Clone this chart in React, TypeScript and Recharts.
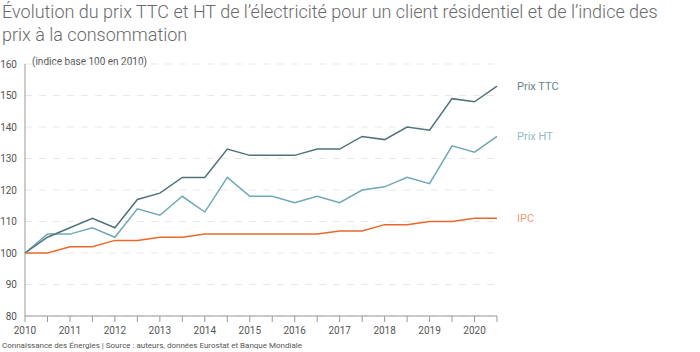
import React from "react";
import { LineChart, Line, XAxis, YAxis, CartesianGrid } from "recharts";

const periods = [2010, 2010.5, 2011, 2011.5, 2012, 2012.5, 2013, 2013.5, 2014, 2014.5, 2015, 2015.5, 2016, 2016.5, 2017, 2017.5, 2018, 2018.5, 2019, 2019.5, 2020, 2020.5];
const prixTTC = [100, 105, 108, 111, 108, 117, 119, 124, 124, 133, 131, 131, 131, 133, 133, 137, 136, 140, 139, 149, 148, 153];
const prixHT = [100, 106, 106, 108, 105, 114, 112, 118, 113, 124, 118, 118, 116, 118, 116, 120, 121, 124, 122, 134, 132, 137];
const ipc = [100, 100, 102, 102, 104, 104, 105, 105, 106, 106, 106, 106, 106, 106, 107, 107, 109, 109, 110, 110, 111, 111];
const yTicks = [80, 90, 100, 110, 120, 130, 140, 150, 160];
const xTicks = periods;

const title1 = "Évolution du prix TTC et HT de l’électricité pour un client résidentiel et de l’indice des";
const title2 = "prix à la consommation";
const unitLabel = "(indice base 100 en 2010)";
const sourceText = "Connaissance des Énergies | Source : auteurs, données Eurostat et Banque Mondiale";

const data = periods.map((p, i) => ({ p, ttc: prixTTC[i], ht: prixHT[i], ipc: ipc[i] }));

const FONT = "Roboto, 'Noto Sans', sans-serif";

const endLabel = (text: string, color: string) => (props: any) => {
  const { x, y, index } = props;
  if (index !== data.length - 1) return null;
  return (
    <text key={text} x={x + 20} y={y} fill={color} fontSize={11} fontFamily={FONT} dominantBaseline="central">
      {text}
    </text>
  );
};

export default function App() {
  return (
    <div style={{ position: "absolute", left: 0, top: 0, width: 700, height: 352, background: "#fff", fontFamily: FONT }}>
      <div style={{ position: "absolute", left: 2, top: 0, fontSize: 18, fontWeight: 300, color: "#6a6a6a", lineHeight: "23px", whiteSpace: "nowrap" }}>
        <div>{title1}</div>
        <div>{title2}</div>
      </div>
      <div style={{ position: "absolute", left: 2, top: 341, fontSize: 8, color: "#555", whiteSpace: "nowrap" }}>{sourceText}</div>
      <div style={{ position: "absolute", left: 32, top: 56, fontSize: 10, color: "#555", whiteSpace: "nowrap" }}>{unitLabel}</div>
      <LineChart width={700} height={352} data={data} margin={{ top: 64, right: 203, bottom: 16, left: 0 }}>
        <CartesianGrid vertical={false} stroke="#e8e8e8" strokeDasharray="7 7" />
        <XAxis
          dataKey="p"
          type="number"
          domain={[2010, 2020.5]}
          ticks={xTicks}
          interval={0}
          tickFormatter={(v: number) => (Number.isInteger(v) ? String(v) : "")}
          stroke="#999"
          tickSize={6}
          tickMargin={5}
          tick={{ fill: "#555", fontSize: 10, fontFamily: FONT }}
          height={20}
        />
        <YAxis
          domain={[80, 160]}
          ticks={yTicks}
          interval={0}
          width={25}
          stroke="#999"
          tickLine={false}
          tickSize={0}
          tickMargin={8}
          tick={{ fill: "#555", fontSize: 10, fontFamily: FONT }}
        />
        <Line dataKey="ipc" stroke="#e8692a" strokeWidth={1.5} dot={false} isAnimationActive={false} label={endLabel("IPC", "#f0a078")} />
        <Line dataKey="ht" stroke="#6fa8b8" strokeWidth={1.5} dot={false} isAnimationActive={false} label={endLabel("Prix HT", "#92bcc8")} />
        <Line dataKey="ttc" stroke="#4f7379" strokeWidth={1.5} dot={false} isAnimationActive={false} label={endLabel("Prix TTC", "#66848a")} />
      </LineChart>
    </div>
  );
}
